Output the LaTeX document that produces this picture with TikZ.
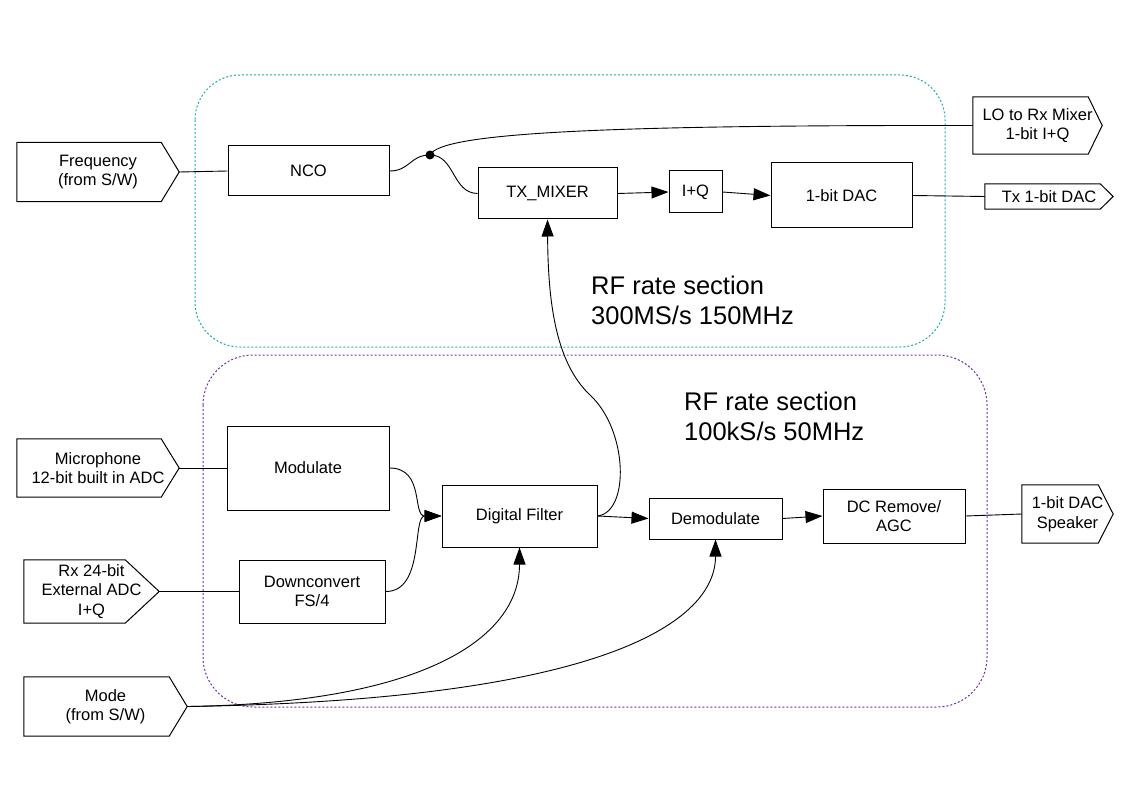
\documentclass[tikz,border=0pt]{standalone}
\usepackage{fontspec}
\setmainfont{Liberation Sans}
\usepackage{tikz}
\usetikzlibrary{arrows.meta,calc}
\usepackage{xcolor}
\definecolor{rfteal}{HTML}{1AAFAF}
\definecolor{bbpurple}{HTML}{7030A0}

% outline of an input/output port: a box with a pointed east side
\newcommand{\portshape}[2]{%
  \draw[line width=1pt] (#1.north west) -- ([xshift=-#2pt]#1.north east) -- (#1.east)
    -- ([xshift=-#2pt]#1.south east) -- (#1.south west) -- cycle;}

\begin{document}
\begin{tikzpicture}[x=1pt, y=-1pt,
  block/.style={draw, line width=1pt, inner sep=0pt, align=center, font=\fontsize{16.5}{19.5}\selectfont},
  port/.style={inner sep=0pt, align=center, font=\fontsize{16.5}{19.5}\selectfont},
  sig/.style={line width=0.9pt},
  flow/.style={line width=0.9pt, -{Triangle[length=17pt,width=12pt]}},
  zone/.style={line width=1pt, dash pattern=on 2pt off 2pt},
  note/.style={inner sep=0pt, align=left, anchor=west, font=\fontsize{25.5}{30}\selectfont}]
  \useasboundingbox (0,0) rectangle (1123,794);

  % Sections
  \draw[zone, draw=rfteal, rounded corners=45pt] (195,75) rectangle (945,347);
  \draw[zone, draw=bbpurple, rounded corners=50pt] (203,355) rectangle (987,707);
  \node[note] (rfnote) at (591,300) {RF rate section\\300MS/s 150MHz};
  \node[note] (bbnote) at (684,416.5) {RF rate section\\100kS/s 50MHz};

  % Transmit chain
  \node[port, minimum width=162, minimum height=59] (freq) at (98,172) {Frequency\\(from S/W)};
  \portshape{freq}{18}
  \node[block, minimum width=161, minimum height=50] (nco) at (308.5,171) {NCO};
  \node[circle, fill, inner sep=0pt, minimum size=9] (jn) at (430,155) {};
  \node[block, minimum width=139, minimum height=51] (txmix) at (547.5,193.5) {TX\_MIXER};
  \node[block, minimum width=53, minimum height=42] (iq) at (695.5,192) {I+Q};
  \node[block, minimum width=141, minimum height=65] (dac) at (841.5,195.5) {1-bit DAC};
  \node[port, minimum width=129, minimum height=57] (lo) at (1037.5,125.5) {LO to Rx Mixer\\1-bit I+Q};
  \portshape{lo}{14}
  \node[port, minimum width=128, minimum height=25] (txdac) at (1049,196.5) {Tx 1-bit DAC};
  \portshape{txdac}{13}

  \draw[sig] (freq.east) -- (nco.west);
  \draw[sig] (nco.east) .. controls (410,171) and (410,155) .. (jn.center);
  \draw[sig] (jn.center) .. controls (455,155) and (452,193) .. (txmix.west);
  \draw[sig] (jn.center) .. controls (440,133) and (600,125) .. (lo.west);
  \draw[flow] (txmix.east) -- (iq.west);
  \draw[flow] (iq.east) -- (dac.west);
  \draw[sig] (dac.east) -- (txdac.west);

  % Baseband chain
  \node[port, minimum width=162, minimum height=58] (mic) at (98,468) {Microphone\\12-bit built in ADC};
  \portshape{mic}{18}
  \node[port, minimum width=135, minimum height=63] (rxadc) at (91.5,591.5) {Rx 24-bit\\External ADC\\I+Q};
  \portshape{rxadc}{34}
  \node[port, minimum width=163, minimum height=59] (mode) at (105.5,706.5) {Mode\\(from S/W)};
  \portshape{mode}{18}
  \node[block, minimum width=162, minimum height=84] (mod) at (308,468) {Modulate};
  \node[block, minimum width=146, minimum height=63] (down) at (312,591.5) {Downconvert\\FS/4};
  \node[block, minimum width=155, minimum height=62] (filt) at (519.5,516) {Digital Filter};
  \node[block, minimum width=133, minimum height=41] (demod) at (715.5,518.5) {Demodulate};
  \node[block, minimum width=142, minimum height=54] (dcagc) at (894,516) {DC Remove/\\AGC};
  \node[port, minimum width=91, minimum height=58] (spk) at (1067.5,514) {1-bit DAC\\Speaker};
  \portshape{spk}{15}

  \draw[sig] (mic.east) -- (mod.west);
  \draw[sig] (rxadc.east) -- (down.west);
  \draw[flow] (mod.east) .. controls (425,468) and (412,516) .. (filt.west);
  \draw[flow] (down.east) .. controls (425,592) and (412,516) .. (filt.west);
  \draw[flow] (filt.east) -- (demod.west);
  \draw[flow] (filt.east) .. controls (630,512) and (628,430) .. (590,395)
    .. controls (555,362) and (548,300) .. (txmix.south);
  \draw[flow] (demod.east) -- (dcagc.west);
  \draw[sig] (dcagc.east) -- (spk.west);
  \draw[flow] (mode.east) .. controls (420,703) and (519.5,640) .. (filt.south);
  \draw[flow] (mode.east) .. controls (610,700) and (715.5,620) .. (demod.south);
\end{tikzpicture}
\end{document}
